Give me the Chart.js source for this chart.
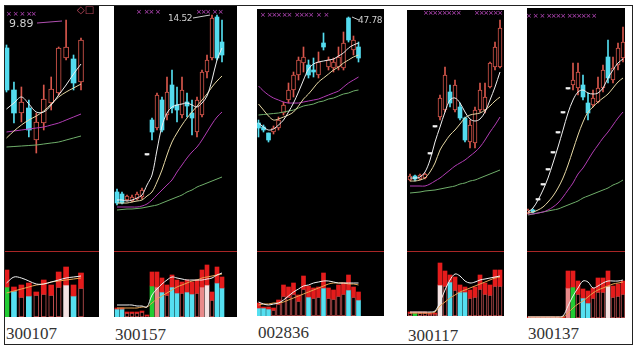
<!DOCTYPE html>
<html>
<head>
<meta charset="utf-8">
<script src="https://cdn.jsdelivr.net/npm/chart.js@4.4.1/dist/chart.umd.min.js"></script>
<style>
  html, body { margin: 0; padding: 0; background: #fff; }
  body { width: 637px; height: 351px; position: relative; overflow: hidden; font-family: "DejaVu Sans", sans-serif; }
  #frame { position: absolute; left: 4px; top: 5px; width: 627px; height: 338px; border: 1px solid #222; }
  .panel { position: absolute; background: #000; overflow: hidden; }
  .panel canvas { position: absolute; left: 0; }
  .sep { position: absolute; left: 0; height: 1px; background: #a82626; }
  .code { position: absolute; font-family: "Liberation Serif", serif; font-size: 17px; line-height: 17px; color: #333; }
  .txt { position: absolute; white-space: pre; line-height: 1; }
  svg { position: absolute; left: 0; top: 0; }
</style>
</head>
<body>
<div id="frame"></div>
<script>
// ---- panel 1 : 300107 ----
const p1Range = [5.29, 10.17];
const p1Open  = [9.33, 8.49, 8.03, 8.13, 7.49, 7.83, 8.23, 8.43, 9.13, 9.11, 8.65];
const p1Close = [8.49, 8.03, 8.25, 7.69, 7.85, 8.31, 8.51, 9.33, 9.35, 8.63, 9.49];
const p1High  = [9.39, 8.65, 8.55, 8.29, 8.03, 8.59, 8.75, 9.35, 9.89, 9.19, 9.53];
const p1Low   = [8.45, 7.83, 7.85, 7.55, 7.23, 7.69, 8.09, 8.39, 9.09, 8.49, 8.49];
const p1Ma5  = [8.11, 8.23, 8.35, 8.21, 8.05, 8.05, 8.19, 8.39, 8.59, 8.81, 9.01];
const p1Ma10 = [7.53, 7.67, 7.79, 7.89, 7.97, 8.07, 8.21, 8.35, 8.45, 8.53, 8.61];
const p1Ma20 = [7.65, 7.67, 7.69, 7.71, 7.73, 7.75, 7.79, 7.83, 7.89, 7.95, 8.01];
const p1Ma60 = [7.35, 7.36, 7.37, 7.38, 7.39, 7.41, 7.43, 7.45, 7.49, 7.53, 7.57];
const p1Vol      = [47, 30, 32, 34, 25, 37, 32, 45, 50, 32, 44];
const p1VolSplit = [30, 26, 20, 21, 22, 23, 22, 30, 32, 21, 29];
const p1VolKind  = ['g','c','h','c','h','h','h','h','w','c','h'];
const p1VolMa5   = [34, 40, 39, 36, 33, 33, 35, 37, 39, 40, 41];
const p1VolMa10  = [24, 26, 28, 30, 32, 33, 35, 36, 37, 38, 39];

// ---- panel 2 : 300157 ----
const p2Range = [5.12, 14.88];
const p2Open  = [7.44, 7.36, 7.12, 7.08, 7.16, 7.24, 8.92, 10.32, 10.00, 11.12, 10.52, 11.72, 10.92, 10.52, 11.04, 10.60, 9.84, 10.52, 12.24, 12.80, 14.44, 13.44];
const p2Close = [7.00, 7.00, 7.28, 7.24, 7.36, 7.52, 8.92, 9.84, 11.32, 9.92, 11.44, 10.80, 10.72, 11.52, 10.88, 10.40, 11.12, 12.24, 12.72, 14.40, 12.80, 12.92];
const p2High  = [7.56, 7.44, 7.32, 7.32, 7.44, 7.60, 8.92, 10.40, 11.40, 11.24, 12.04, 12.32, 11.64, 12.04, 11.40, 11.12, 11.24, 12.32, 12.92, 14.52, 14.52, 14.32];
const p2Low   = [6.92, 6.96, 7.08, 7.04, 7.12, 7.16, 8.92, 9.52, 9.92, 9.84, 10.32, 10.60, 10.24, 10.40, 10.44, 9.72, 9.64, 10.44, 12.00, 12.72, 12.72, 12.64];
const p2Ma5  = [7.12, 7.12, 7.08, 7.12, 7.20, 7.32, 7.72, 8.12, 9.12, 10.08, 10.60, 10.84, 10.92, 10.96, 11.00, 10.92, 10.84, 11.00, 11.28, 11.92, 12.72, 13.20];
const p2Ma10 = [7.00, 7.00, 7.00, 7.04, 7.08, 7.12, 7.28, 7.44, 7.84, 8.32, 8.92, 9.44, 9.80, 10.12, 10.40, 10.64, 10.88, 11.12, 11.36, 11.64, 11.88, 12.08];
const p2Ma20 = [6.84, 6.84, 6.84, 6.84, 6.84, 6.88, 6.96, 7.12, 7.32, 7.52, 7.72, 7.92, 8.24, 8.52, 8.80, 9.04, 9.24, 9.52, 9.84, 10.16, 10.44, 10.64];
const p2Ma60 = [6.72, 6.74, 6.76, 6.76, 6.78, 6.80, 6.84, 6.88, 6.92, 7.00, 7.08, 7.16, 7.24, 7.32, 7.44, 7.52, 7.64, 7.72, 7.80, 7.88, 7.96, 8.04];
const p2Vol      = [9, 9, 5, 5, 5, 6, 2, 45, 45, 39, 32, 42, 37, 35, 37, 35, 37, 47, 52, 25, 50, 40];
const p2VolSplit = [8, 8, 4, 4, 4, 5, 1, 31, 30, 25, 22, 30, 24, 24, 25, 23, 24, 30, 32, 17, 34, 29];
const p2VolKind  = ['c','c','h','h','h','h','h','g','p','c','h','c','c','h','c','c','h','p','w','h','c','c'];
const p2VolMa5   = [12, 12, 12, 12, 11, 11, 10, 22, 28, 33, 37, 40, 39, 38, 37, 37, 37, 37, 38, 39, 42, 44];
const p2VolMa10  = [9, 9, 9, 9, 9, 10, 10, 14, 18, 21, 24, 27, 30, 32, 34, 36, 37, 39, 40, 41, 42, 43];

// ---- panel 3 : 002836 ----
const p3Range = [24.48, 48.58];
const p3Open  = [37.18, 36.78, 36.18, 36.28, 36.68, 38.18, 39.48, 40.48, 41.98, 43.18, 42.98, 42.48, 41.98, 45.18, 42.78, 42.68, 42.78, 42.68, 47.68, 44.48, 44.78];
const p3Close = [36.68, 36.48, 35.48, 36.68, 37.48, 38.98, 40.48, 41.98, 43.48, 43.78, 41.98, 42.28, 43.28, 44.78, 43.48, 43.28, 43.78, 45.18, 45.48, 45.48, 43.68];
const p3High  = [37.48, 36.98, 36.18, 36.88, 37.78, 39.28, 41.18, 42.28, 43.78, 44.78, 43.48, 43.68, 44.28, 46.18, 43.78, 43.68, 44.78, 46.28, 47.78, 45.88, 45.28];
const p3Low   = [35.78, 36.28, 35.28, 36.08, 36.48, 37.98, 39.18, 39.78, 41.48, 42.28, 41.68, 41.78, 41.68, 44.48, 42.48, 42.28, 42.48, 42.48, 45.28, 43.98, 43.28];
const p3Ma5  = [37.18, 36.78, 36.48, 36.58, 36.98, 37.48, 38.28, 39.18, 40.28, 41.48, 42.58, 43.08, 43.28, 43.38, 43.48, 43.58, 43.88, 44.18, 44.68, 44.98, 45.18];
const p3Ma10 = [39.08, 38.48, 37.88, 37.48, 37.58, 37.78, 37.98, 38.28, 38.88, 39.58, 40.08, 40.68, 41.28, 41.68, 42.08, 42.48, 42.78, 43.18, 43.48, 43.78, 43.98];
const p3Ma20 = [40.88, 40.38, 39.98, 39.68, 39.48, 39.28, 39.18, 39.18, 39.18, 39.28, 39.38, 39.48, 39.58, 39.78, 39.98, 40.18, 40.38, 40.78, 41.18, 41.48, 41.78];
const p3Ma60 = [37.98, 38.03, 38.08, 38.13, 38.18, 38.28, 38.38, 38.48, 38.68, 38.88, 38.98, 39.08, 39.28, 39.38, 39.58, 39.68, 39.88, 40.08, 40.18, 40.38, 40.48];
const p3Vol      = [13, 9, 9, 8, 16, 31, 29, 33, 21, 40, 30, 28, 29, 43, 28, 26, 31, 33, 41, 29, 24];
const p3VolSplit = [8, 8, 7, 6, 12, 20, 19, 22, 15, 27, 19, 18, 19, 28, 18, 17, 20, 22, 26, 19, 16];
const p3VolKind  = ['c','c','c','h','h','h','h','h','h','h','c','h','h','c','h','h','h','h','c','h','c'];
const p3VolMa5   = [14, 12, 11, 12, 13, 16, 20, 24, 27, 30, 31, 33, 34, 35, 35, 34, 33, 33, 33, 33, 33];
const p3VolMa10  = [11, 12, 12, 13, 13, 14, 16, 18, 20, 22, 24, 26, 28, 30, 32, 33, 33, 33, 32, 32, 31];

// ---- panel 4 : 300117 ----
const p4Range = [5.0, 29.0];
const p4Open  = [12.0, 12.4, 12.1, 12.2, 14.6, 17.3, 18.3, 19.0, 20.8, 19.0, 19.3, 18.2, 15.8, 15.7, 19.0, 19.0, 21.3, 23.3, 23.3];
const p4Close = [12.4, 12.1, 12.5, 12.6, 14.6, 17.3, 20.2, 22.5, 19.7, 21.5, 18.2, 16.0, 17.5, 19.0, 21.0, 20.3, 23.7, 25.3, 27.2];
const p4High  = [12.6, 12.5, 12.6, 12.7, 14.6, 17.3, 20.5, 23.3, 21.5, 22.0, 19.7, 18.3, 18.0, 19.3, 21.7, 21.7, 23.8, 25.8, 28.0];
const p4Low   = [11.9, 11.9, 12.0, 12.1, 14.6, 17.3, 18.0, 18.8, 19.3, 18.8, 18.0, 15.8, 15.2, 15.2, 18.8, 18.7, 21.2, 23.0, 23.2];
const p4Ma5  = [12.2, 12.2, 12.3, 12.8, 14.0, 15.8, 17.3, 18.8, 20.0, 20.2, 19.7, 18.8, 18.1, 17.9, 18.1, 18.8, 20.0, 21.3, 22.8];
const p4Ma10 = [11.9, 11.9, 12.0, 12.2, 12.8, 13.7, 15.0, 15.8, 16.5, 17.0, 17.6, 18.2, 18.5, 18.6, 18.7, 19.0, 19.4, 19.9, 20.3];
const p4Ma20 = [11.4, 11.4, 11.4, 11.4, 11.6, 11.9, 12.2, 12.6, 13.0, 13.4, 13.7, 14.0, 14.4, 14.8, 15.3, 16.0, 16.8, 17.5, 18.3];
const p4Ma60 = [10.7, 10.75, 10.8, 10.9, 10.95, 11.0, 11.1, 11.2, 11.3, 11.4, 11.6, 11.7, 11.9, 12.0, 12.2, 12.4, 12.6, 12.8, 13.0];
const p4Vol      = [4, 4, 4, 4, 3, 3, 53, 45, 41, 39, 31, 29, 26, 29, 41, 33, 31, 46, 46];
const p4VolSplit = [3, 3, 3, 3, 2, 2, 31, 30, 34, 26, 24, 24, 18, 19, 27, 22, 21, 30, 30];
const p4VolKind  = ['h','g','h','h','h','h','w','h','c','h','c','c','h','h','h','h','h','h','h'];
const p4VolMa5   = [4, 4, 4, 4, 4, 5, 14, 26, 36, 42, 40, 35, 33, 34, 36, 37, 38, 39, 40];
const p4VolMa10  = [3, 3, 3, 3, 3, 4, 10, 14, 18, 21, 24, 26, 28, 30, 32, 34, 36, 38, 39];

// ---- panel 5 : 300137 ----
const p5Range = [5.0, 29.2];
const p5Open  = [8.7, 9.0, 10.0, 11.5, 13.0, 14.7, 16.7, 18.7, 21.1, 21.5, 21.2, 21.5, 19.7, 19.5, 19.8, 21.2, 24.3, 22.0, 23.5, 24.2];
const p5Close = [9.0, 8.8, 10.0, 11.5, 13.0, 14.7, 16.7, 18.7, 21.1, 22.0, 22.8, 20.3, 18.7, 20.2, 21.2, 23.0, 22.2, 23.2, 25.2, 25.8];
const p5High  = [9.1, 9.1, 10.0, 11.5, 13.0, 14.7, 16.7, 18.7, 21.1, 23.7, 23.7, 22.5, 20.7, 21.0, 22.3, 23.5, 26.0, 24.3, 25.7, 27.3];
const p5Low   = [8.6, 8.7, 10.0, 11.5, 13.0, 14.7, 16.7, 18.7, 21.1, 21.0, 20.5, 20.0, 18.0, 19.3, 19.7, 20.8, 21.7, 21.7, 23.0, 23.8];
const p5Ma5  = [8.8, 9.2, 10.0, 11.0, 12.2, 13.7, 15.3, 17.0, 18.7, 20.0, 20.8, 21.0, 20.7, 20.6, 20.7, 21.2, 22.2, 23.0, 23.7, 24.1];
const p5Ma10 = [8.7, 8.8, 9.0, 9.3, 9.8, 10.4, 11.2, 12.2, 13.5, 15.0, 16.5, 17.8, 18.8, 19.3, 19.8, 20.2, 20.6, 21.2, 21.8, 22.2];
const p5Ma20 = [8.6, 8.6, 8.7, 8.8, 9.0, 9.3, 9.7, 10.3, 11.0, 11.7, 12.6, 13.2, 14.0, 14.8, 15.5, 16.2, 16.8, 17.5, 18.2, 18.8];
const p5Ma60 = [8.5, 8.6, 8.7, 8.8, 8.9, 9.0, 9.1, 9.3, 9.5, 9.7, 9.9, 10.2, 10.4, 10.6, 10.8, 11.0, 11.2, 11.5, 11.7, 12.0];
const p5Vol      = [1, 1, 1, 1, 1, 1, 1, 1, 47, 47, 37, 29, 27, 30, 40, 40, 47, 32, 34, 37];
const p5VolSplit = [0, 0, 0, 0, 0, 0, 0, 0, 30, 31, 24, 20, 15, 20, 26, 26, 32, 21, 22, 24];
const p5VolKind  = ['h','h','h','h','h','h','h','h','p','g','h','c','c','h','h','h','w','h','h','h'];
const p5VolMa5   = [1, 1, 1, 1, 1, 1, 1, 2, 12, 22, 30, 37, 36, 30, 32, 35, 37, 37, 37, 38];
const p5VolMa10  = [1, 1, 1, 1, 1, 1, 1, 1, 5, 10, 14, 17, 21, 25, 28, 30, 32, 34, 35, 36];

const codes = ['300107', '300157', '002836', '300117', '300137'];

// layout of each screenshot panel (page pixels)
const panels = [
  { left: 5,   top: 6,  width: 94,  bottom: 317, x0: 1.5, step: 7.45, body: 5, codeY: 325,
    range: p1Range, o: p1Open, c: p1Close, h: p1High, l: p1Low, ma: [p1Ma5, p1Ma10, p1Ma20, p1Ma60],
    vol: p1Vol, split: p1VolSplit, kind: p1VolKind, vma: [p1VolMa5, p1VolMa10] },
  { left: 114, top: 6,  width: 123, bottom: 317, x0: 3, step: 5, body: 4, codeY: 326,
    range: p2Range, o: p2Open, c: p2Close, h: p2High, l: p2Low, ma: [p2Ma5, p2Ma10, p2Ma20, p2Ma60],
    vol: p2Vol, split: p2VolSplit, kind: p2VolKind, vma: [p2VolMa5, p2VolMa10] },
  { left: 257, top: 9,  width: 127, bottom: 316, x0: 1.5, step: 5, body: 4, codeY: 324,
    range: p3Range, o: p3Open, c: p3Close, h: p3High, l: p3Low, ma: [p3Ma5, p3Ma10, p3Ma20, p3Ma60],
    vol: p3Vol, split: p3VolSplit, kind: p3VolKind, vma: [p3VolMa5, p3VolMa10] },
  { left: 407, top: 10, width: 97,  bottom: 316, x0: 3, step: 5, body: 4, codeY: 327,
    range: p4Range, o: p4Open, c: p4Close, h: p4High, l: p4Low, ma: [p4Ma5, p4Ma10, p4Ma20, p4Ma60],
    vol: p4Vol, split: p4VolSplit, kind: p4VolKind, vma: [p4VolMa5, p4VolMa10] },
  { left: 527, top: 8,  width: 98,  bottom: 318, x0: 1, step: 5, body: 4, codeY: 325,
    range: p5Range, o: p5Open, c: p5Close, h: p5High, l: p5Low, ma: [p5Ma5, p5Ma10, p5Ma20, p5Ma60],
    vol: p5Vol, split: p5VolSplit, kind: p5VolKind, vma: [p5VolMa5, p5VolMa10] }
];

const RED = '#d8574c', CYAN = '#54dcef', FLAT = '#f2f2f2';
const MA_COLORS = ['#efefef', '#e6d8a4', '#b23cb4', '#6fae6a'];
const VMA_COLORS = ['#f0f0f0', '#e8a450'];
const VOL_FILL = { c: '#55dff0', g: '#22cc33', w: '#f4e2e2', p: '#e88a8a', h: '#000' };

const baseOpts = (xmin, xmax, ymin, ymax) => ({
  responsive: false, animation: false, events: [],
  layout: { padding: 0 },
  plugins: { legend: { display: false }, tooltip: { enabled: false } },
  scales: {
    x: { type: 'linear', display: false, offset: false, min: xmin, max: xmax },
    y: { type: 'linear', display: false, min: ymin, max: ymax }
  }
});

function lineSet(arr, color, order) {
  return { type: 'line', data: arr.map((v, i) => ({ x: i, y: v })), borderColor: color,
           borderWidth: 1, pointRadius: 0, tension: 0.35, order: order };
}

panels.forEach(function(p, k) {
  const wrap = document.createElement('div');
  wrap.className = 'panel';
  wrap.style.left = p.left + 'px';
  wrap.style.top = p.top + 'px';
  wrap.style.width = p.width + 'px';
  wrap.style.height = (p.bottom - p.top) + 'px';
  document.body.appendChild(wrap);

  const priceCv = document.createElement('canvas');
  priceCv.width = p.width; priceCv.height = 250 - p.top;
  priceCv.style.top = '0px';
  wrap.appendChild(priceCv);

  const sep = document.createElement('div');
  sep.className = 'sep';
  sep.style.top = (251 - p.top) + 'px';
  sep.style.width = p.width + 'px';
  wrap.appendChild(sep);

  const volH = p.bottom - 253;
  const volCv = document.createElement('canvas');
  volCv.width = p.width; volCv.height = volH;
  volCv.style.top = (253 - p.top) + 'px';
  wrap.appendChild(volCv);

  const xmin = -p.x0 / p.step, xmax = (p.width - p.x0) / p.step;
  const up = p.o.map((o, i) => p.c[i] > o ? 1 : (p.c[i] < o ? -1 : 0));
  const lineCol = up.map(u => u > 0 ? RED : (u < 0 ? CYAN : FLAT));

  new Chart(priceCv, {
    type: 'bar',
    data: { datasets: [
      lineSet(p.ma[0], MA_COLORS[0], 0),
      lineSet(p.ma[1], MA_COLORS[1], 0),
      lineSet(p.ma[2], MA_COLORS[2], 0),
      lineSet(p.ma[3], MA_COLORS[3], 0),
      { type: 'bar', order: 1, grouped: false, barThickness: p.body, minBarLength: 1.5,
        data: p.o.map((o, i) => ({ x: i, y: [Math.min(o, p.c[i]), Math.max(o, p.c[i])] })),
        backgroundColor: up.map(u => u > 0 ? '#000' : (u < 0 ? CYAN : FLAT)),
        borderColor: lineCol, borderWidth: up.map(u => u > 0 ? 1 : 0), borderSkipped: false },
      { type: 'bar', order: 2, grouped: false, barThickness: 1,
        data: p.l.map((lo, i) => ({ x: i, y: [lo, p.h[i]] })),
        backgroundColor: lineCol }
    ]},
    options: baseOpts(xmin, xmax, p.range[0], p.range[1])
  });

  new Chart(volCv, {
    type: 'bar',
    data: { datasets: [
      lineSet(p.vma[0], VMA_COLORS[0], 0),
      lineSet(p.vma[1], VMA_COLORS[1], 0),
      { type: 'bar', order: 1, grouped: false, barThickness: p.body,
        data: p.vol.map((v, i) => ({ x: i, y: [p.split[i], v] })),
        backgroundColor: '#e41c1c' },
      { type: 'bar', order: 2, grouped: false, barThickness: p.body,
        data: p.split.map((s, i) => ({ x: i, y: [0, s] })),
        backgroundColor: p.kind.map(t => VOL_FILL[t]),
        borderColor: p.kind.map(t => t === 'h' ? '#c05050' : 'rgba(0,0,0,0)'),
        borderWidth: p.kind.map(t => t === 'h' ? 1 : 0), borderSkipped: false }
    ]},
    options: baseOpts(xmin, xmax, 0, volH)
  });

  const code = document.createElement('div');
  code.className = 'code';
  code.style.left = (p.left + 1) + 'px';
  code.style.top = p.codeY + 'px';
  code.textContent = codes[k];
  document.body.appendChild(code);
});

// texts drawn on top of the screenshots
const overlays = [
  { t: '9.89', x: 9, y: 18, size: 11, color: '#cfcfcf' },
  { t: '14.52', x: 168, y: 14, size: 9, color: '#d0d0d0' },
  { t: '47.78', x: 358, y: 16, size: 9, color: '#d0d0d0' },
  { t: '\u25C7\u25A1', x: 77, y: 5, size: 10, color: '#c04a5e' },
  { t: '\u00D7  \u00D7  \u00D7  \u00D7\u00D7', x: 6, y: 11, size: 7, color: '#c24cc6' },
  { t: '\u00D7   \u00D7\u00D7  \u00D7', x: 136, y: 9, size: 7, color: '#c24cc6' },
  { t: '\u00D7\u00D7\u00D7  \u00D7 \u00D7', x: 196, y: 9, size: 7, color: '#c24cc6' },
  { t: '\u00D7  \u00D7\u00D7\u00D7 \u00D7\u00D7   \u00D7\u00D7\u00D7\u00D7   \u00D7   \u00D7', x: 260, y: 12, size: 7, color: '#c24cc6' },
  { t: '\u00D7\u00D7\u00D7\u00D7\u00D7\u00D7\u00D7\u00D7', x: 423, y: 10, size: 7, color: '#c24cc6' },
  { t: '\u00D7\u00D7\u00D7\u00D7\u00D7\u00D7', x: 474, y: 10, size: 7, color: '#c24cc6' },
  { t: '\u00D7  \u00D7  \u00D7  \u00D7\u00D7\u00D7\u00D7  \u00D7\u00D7\u00D7\u00D7\u00D7 \u00D7', x: 526, y: 13, size: 7, color: '#c24cc6' }
];
overlays.forEach(function(o) {
  const d = document.createElement('div');
  d.className = 'txt';
  d.style.left = o.x + 'px';
  d.style.top = o.y + 'px';
  d.style.fontSize = o.size + 'px';
  d.style.color = o.color;
  if (o.size === 7) d.style.letterSpacing = '-1.2px';
  if (o.size === 9) d.style.letterSpacing = '-0.3px';
  d.textContent = o.t;
  document.body.appendChild(d);
});

// pointer lines from the high labels to the candles
const svgNS = 'http://www.w3.org/2000/svg';
const svg = document.createElementNS(svgNS, 'svg');
svg.setAttribute('width', 637); svg.setAttribute('height', 351);
[[37, 23, 62, 21, '#b050b0'], [193, 18, 210, 15, '#cccccc'], [352, 17, 359, 20, '#cccccc']].forEach(function(s) {
  const ln = document.createElementNS(svgNS, 'line');
  ln.setAttribute('x1', s[0]); ln.setAttribute('y1', s[1]);
  ln.setAttribute('x2', s[2]); ln.setAttribute('y2', s[3]);
  ln.setAttribute('stroke', s[4]); ln.setAttribute('stroke-width', 1);
  svg.appendChild(ln);
});
document.body.appendChild(svg);
</script>
</body>
</html>
